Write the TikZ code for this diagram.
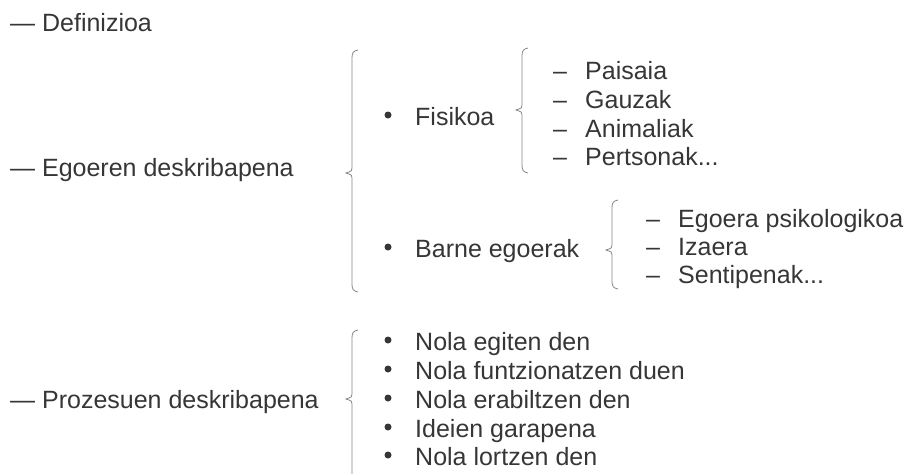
\documentclass[tikz,border=0pt]{standalone}
\usepackage{fontspec}
\setmainfont{Liberation Sans}
\definecolor{ink}{HTML}{363636}
\definecolor{brc}{HTML}{858585}
\tikzset{
  lbl/.style={anchor=base west, inner sep=0pt, text=ink, font=\fontsize{25}{28}\selectfont},
  bul/.style={circle, fill=ink, inner sep=0pt, minimum size=7pt},
  brline/.style={draw=brc, line width=0.8pt}
}
\newcommand{\mybrace}[4]{% x, top, mid, bottom
  \draw[brline] (#1+6,#2) .. controls (#1+1,#2+1) and (#1,#2+3) .. (#1,#2+8)
    -- (#1,#3-5) .. controls (#1,#3-2) .. (#1-6,#3)
    .. controls (#1,#3+2) .. (#1,#3+5)
    -- (#1,#4-8) .. controls (#1,#4-3) and (#1+1,#4-1) .. (#1+6,#4);
}
\newcommand{\sub}[5]{% name, text, baseline y, dash x, text x
  \node[lbl] (#1d) at (#4,#3) {–};
  \node[lbl] (#1) at (#5,#3) {#2};
}
\newcommand{\bitem}[3]{% name, text, baseline y
  \node[bul] (#1b) at (388,#3-10) {};
  \node[lbl] (#1) at (415,#3) {#2};
}
\begin{document}
\begin{tikzpicture}[x=1pt,y=-1pt]
\useasboundingbox (0,0) rectangle (911,474);
% top level
\node[lbl] (def) at (10,31.7) {— Definizioa};
\node[lbl] (ego) at (10,176.7) {— Egoeren deskribapena};
\node[lbl] (pro) at (10,408) {— Prozesuen deskribapena};
% big brace
\mybrace{352}{50}{173}{292}
% Fisikoa
\bitem{fis}{Fisikoa}{125}
\mybrace{522}{48}{110}{173}
\sub{f1}{Paisaia}{79}{553}{585}
\sub{f2}{Gauzak}{108}{553}{585}
\sub{f3}{Animaliak}{137}{553}{585}
\sub{f4}{Pertsonak...}{165}{553}{585}
% Barne
\bitem{bar}{Barne egoerak}{257}
\mybrace{612}{200}{250}{289}
\sub{g1}{Egoera psikologikoa}{227}{646}{678}
\sub{g2}{Izaera}{255}{646}{678}
\sub{g3}{Sentipenak...}{283}{646}{678}
% Prozesuen
\draw[brline] (358,330) .. controls (353,331) and (352,333) .. (352,338)
  -- (352,394) .. controls (352,397) .. (346,399) .. controls (352,401) .. (352,404) -- (352,474);
\bitem{q1}{Nola egiten den}{350}
\bitem{q2}{Nola funtzionatzen duen}{379}
\bitem{q3}{Nola erabiltzen den}{408}
\bitem{q4}{Ideien garapena}{437}
\bitem{q5}{Nola lortzen den}{465}
\end{tikzpicture}
\end{document}
